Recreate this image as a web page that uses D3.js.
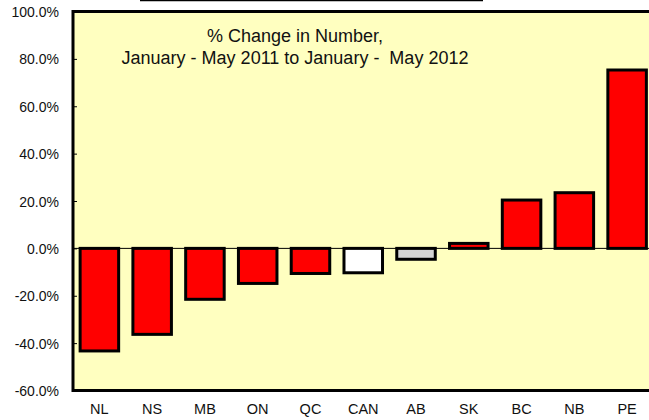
<!DOCTYPE html>
<html>
<head>
<meta charset="utf-8">
<script src="https://cdn.jsdelivr.net/npm/d3@7"></script>
<style>
  html, body { margin: 0; padding: 0; background: #ffffff; }
  svg { display: block; font-family: "Liberation Sans", Arial, sans-serif; }
</style>
</head>
<body>
<svg id="chart" width="649" height="420"></svg>
<script>
// Provinces ordered by percentage change
const categories = ["NL", "NS", "MB", "ON", "QC", "CAN", "AB", "SK", "BC", "NB", "PE"];
const pctChange  = [-43.3, -36.3, -21.5, -14.8, -10.6, -10.3, -4.6, 2.1, 20.4, 23.5, 75.3];
const barFills   = ["#ff0000", "#ff0000", "#ff0000", "#ff0000", "#ff0000", "#ffffff", "#d4d4d4", "#ff0000", "#ff0000", "#ff0000", "#ff0000"];
const yTicks     = [-60, -40, -20, 0, 20, 40, 60, 80, 100];
const titleLines = ["% Change in Number,", "January - May 2011 to January -  May 2012"];

const svg = d3.select("#chart");
const plot = { left: 73, top: 11.5, right: 653.5, bottom: 390.5 };

const x = d3.scaleBand()
  .domain(categories)
  .range([plot.left, plot.right])
  .paddingInner(0.27)
  .paddingOuter(0.135);

const y = d3.scaleLinear()
  .domain([-60, 100])
  .range([plot.bottom, plot.top]);

// plot background
svg.append("rect")
  .attr("x", plot.left).attr("y", plot.top)
  .attr("width", plot.right - plot.left).attr("height", plot.bottom - plot.top)
  .attr("fill", "#ffffc0");

// short rule above the chart
svg.append("line")
  .attr("x1", 140).attr("x2", 483).attr("y1", 0.5).attr("y2", 0.5)
  .attr("stroke", "#000").attr("stroke-width", 1.5);

// y axis with inward ticks
const yAxis = d3.axisLeft(y)
  .tickValues(yTicks)
  .tickSize(-4)
  .tickPadding(14)
  .tickFormat(d => d.toFixed(1) + "%");

const gy = svg.append("g")
  .attr("transform", `translate(${plot.left},0)`)
  .call(yAxis);
gy.select(".domain").remove();
gy.selectAll(".tick line").attr("stroke", "#000").attr("stroke-width", 1);
gy.selectAll(".tick text")
  .attr("fill", "#111")
  .style("font-size", "14px")
  .attr("dy", "0.36em");

// x axis labels
const xAxis = d3.axisBottom(x).tickSize(0).tickPadding(13);
const gx = svg.append("g")
  .attr("transform", `translate(0,${plot.bottom})`)
  .call(xAxis);
gx.select(".domain").remove();
gx.selectAll(".tick text")
  .attr("fill", "#111")
  .style("font-size", "14.5px");

// bars
svg.append("g")
  .selectAll("rect")
  .data(categories)
  .join("rect")
  .attr("x", d => x(d))
  .attr("width", x.bandwidth())
  .attr("y", (d, i) => y(Math.max(0, pctChange[i])))
  .attr("height", (d, i) => Math.abs(y(pctChange[i]) - y(0)))
  .attr("fill", (d, i) => barFills[i])
  .attr("stroke", "#000")
  .attr("stroke-width", 3);

// zero line
svg.append("line")
  .attr("x1", plot.left).attr("x2", plot.right)
  .attr("y1", y(0)).attr("y2", y(0))
  .attr("stroke", "#000").attr("stroke-width", 1);

// plot frame: left, top and bottom edges
svg.append("path")
  .attr("d", `M${plot.right},${plot.top}H${plot.left}V${plot.bottom}H${plot.right}`)
  .attr("fill", "none")
  .attr("stroke", "#000")
  .attr("stroke-width", 3);

// title
const title = svg.append("text")
  .attr("text-anchor", "middle")
  .style("font-size", "18px")
  .style("white-space", "pre")
  .attr("fill", "#111");
titleLines.forEach((t, i) => {
  title.append("tspan")
    .attr("x", 295)
    .attr("y", 42 + i * 21.5)
    .text(t);
});
</script>
</body>
</html>
